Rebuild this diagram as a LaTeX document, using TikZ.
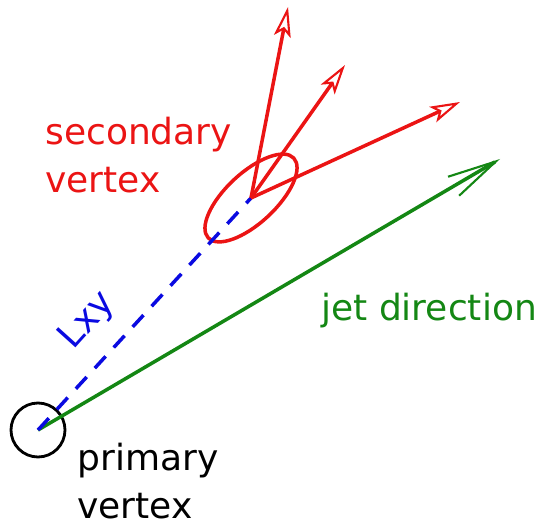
\documentclass[tikz,border=0pt]{standalone}
\usepackage{fontspec}
\setmainfont{DejaVu Sans}
\usetikzlibrary{arrows.meta,shapes.geometric}
\definecolor{svred}{RGB}{235,20,20}
\definecolor{jetgreen}{RGB}{20,135,20}
\definecolor{lxyblue}{RGB}{10,10,225}
\begin{document}
\begin{tikzpicture}[x=0.02cm,y=-0.02cm,
 every node/.style={font=\fontsize{20.5}{27.3}\selectfont},
 track/.style={svred,line width=2pt,-{Stealth[open,length=0.6cm,width=0.34cm,inset=0.14cm,line width=1.2pt]}},
 jetline/.style={jetgreen,line width=2pt,-{Straight Barb[length=0.98cm,width=0.44cm,line width=1.2pt]}},
 flight/.style={lxyblue,line width=2pt,dash pattern=on 0.32cm off 0.24cm}]
\useasboundingbox (0,0) rectangle (546,526);
\node[circle,draw,line width=1.6pt,minimum size=1.08cm,inner sep=0] (pv) at (38,430) {};
\node[ellipse,draw=svred,line width=2pt,minimum width=2.34cm,minimum height=1cm,
 inner sep=0,rotate=43] (sv) at (251,198) {};
\coordinate (jet) at (500,159);
\coordinate (t1) at (288,7);
\coordinate (t2) at (345,65);
\coordinate (t3) at (460,102);
\draw[jetline] (pv.center) -- (jet);
\draw[flight] (pv.center) -- (sv.center);
\foreach \t in {t1,t2,t3}
  {\draw[track] (sv.center) -- (\t);}
\node[svred,align=left,anchor=north west,inner sep=0] (svlab) at (45,117) {secondary\\vertex};
\node[jetgreen,anchor=base west,inner sep=0] (jetlab) at (321,320) {jet direction};
\node[lxyblue,rotate=48,inner sep=0] (lxy) at (88,321) {Lxy};
\node[align=left,anchor=north west,inner sep=0] (pvlab) at (77,443) {primary\\vertex};
\end{tikzpicture}
\end{document}
